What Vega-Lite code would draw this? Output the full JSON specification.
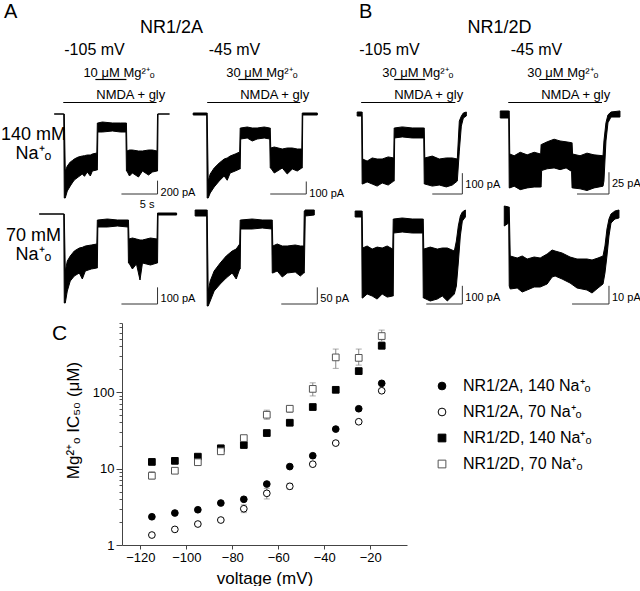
{
"$schema": "https://vega.github.io/schema/vega-lite/v6.json",
"padding": {"left": 0, "top": 2, "right": 0, "bottom": 0},
"spacing": 13,
"resolve": {"scale": {"shape": "independent", "fill": "independent", "stroke": "independent"}},
"config": {"view": {"stroke": null}, "font": "Liberation Sans", "axis": {"grid": false, "labelColor": "black", "titleColor": "black", "titleFontWeight": "normal"}, "title": {"fontWeight": "normal", "color": "black"}, "text": {"color": "black"}, "legend": {"labelColor": "black"}},
"datasets": {
"proto": [
{"p":"A1","drug":"NMDA","t":-0.14,"t2":12.78,"label":"NMDA + gly"},{"p":"A1","drug":"Mg","t":4.31,"t2":8.61,"label":"10 μM Mg²⁺ₒ"},
{"p":"A2","drug":"NMDA","t":0,"t2":12.92,"label":"NMDA + gly"},{"p":"A2","drug":"Mg","t":4.31,"t2":8.61,"label":"30 μM Mg²⁺ₒ"},
{"p":"B1","drug":"NMDA","t":-0.14,"t2":12.92,"label":"NMDA + gly"},{"p":"B1","drug":"Mg","t":4.44,"t2":8.75,"label":"30 μM Mg²⁺ₒ"},
{"p":"B2","drug":"NMDA","t":-0.14,"t2":12.92,"label":"NMDA + gly"},{"p":"B2","drug":"Mg","t":4.17,"t2":8.61,"label":"30 μM Mg²⁺ₒ"}
],
"top": [
{"p":"A1","k":"hb","t":7.92,"t2":12.92,"c":-1200},{"p":"A1","k":"vb","t":12.92,"c":-1200,"c2":-1000},{"p":"A1","k":"yl","t":12.92,"c":-1000,"label":"200 pA"},{"p":"A1","k":"xl","t":12.92,"c":-1200,"label":"5 s"},
{"p":"A2","k":"hb","t":8.75,"t2":13.75,"c":-640},{"p":"A2","k":"vb","t":13.75,"c":-640,"c2":-540},{"p":"A2","k":"yl","t":13.75,"c":-540,"label":"100 pA"},
{"p":"A3","k":"hb","t":7.92,"t2":12.92,"c":-540},{"p":"A3","k":"vb","t":12.92,"c":-540,"c2":-440},{"p":"A3","k":"yl","t":12.92,"c":-440,"label":"100 pA"},
{"p":"A4","k":"hb","t":10.28,"t2":15.28,"c":-270},{"p":"A4","k":"vb","t":15.28,"c":-270,"c2":-220},{"p":"A4","k":"yl","t":15.28,"c":-220,"label":"50 pA"},
{"p":"B1","k":"hb","t":9.72,"t2":13.89,"c":-384},{"p":"B1","k":"vb","t":13.89,"c":-384,"c2":-284},{"p":"B1","k":"yl","t":13.89,"c":-284,"label":"100 pA"},
{"p":"B2","k":"hb","t":9.44,"t2":13.89,"c":-92},{"p":"B2","k":"vb","t":13.89,"c":-92,"c2":-67},{"p":"B2","k":"yl","t":13.89,"c":-67,"label":"25 pA"},
{"p":"B3","k":"hb","t":8.89,"t2":13.89,"c":-495},{"p":"B3","k":"vb","t":13.89,"c":-495,"c2":-395},{"p":"B3","k":"yl","t":13.89,"c":-395,"label":"100 pA"},
{"p":"B4","k":"hb","t":8.75,"t2":13.89,"c":-49.5},{"p":"B4","k":"vb","t":13.89,"c":-49.5,"c2":-39.5},{"p":"B4","k":"yl","t":13.89,"c":-39.5,"label":"10 pA"},
{"p":"A1","k":"tr","t":-1.39,"c":0,"c2":0},{"p":"A1","k":"tr","t":-0.07,"c":0,"c2":0},{"p":"A1","k":"tr","t":0,"c":0,"c2":-1260},{"p":"A1","k":"tr","t":0.14,"c":-855,"c2":-1260},{"p":"A1","k":"tr","t":0.42,"c":-780,"c2":-1155},{"p":"A1","k":"tr","t":0.83,"c":-720,"c2":-1080},{"p":"A1","k":"tr","t":1.1,"c":-700,"c2":-1035},{"p":"A1","k":"tr","t":1.39,"c":-675,"c2":-990},{"p":"A1","k":"tr","t":1.94,"c":-645,"c2":-945},{"p":"A1","k":"tr","t":2.5,"c":-630,"c2":-900},{"p":"A1","k":"tr","t":2.8,"c":-625,"c2":-935},{"p":"A1","k":"tr","t":3.19,"c":-615,"c2":-870},{"p":"A1","k":"tr","t":3.61,"c":-615,"c2":-930},{"p":"A1","k":"tr","t":3.89,"c":-600,"c2":-855},{"p":"A1","k":"tr","t":4.51,"c":-585,"c2":-840},{"p":"A1","k":"tr","t":4.58,"c":-135,"c2":-840},{"p":"A1","k":"tr","t":4.65,"c":-135,"c2":-270},{"p":"A1","k":"tr","t":5.28,"c":-120,"c2":-270},{"p":"A1","k":"tr","t":6.67,"c":-135,"c2":-255},{"p":"A1","k":"tr","t":7.78,"c":-135,"c2":-270},{"p":"A1","k":"tr","t":8.54,"c":-135,"c2":-270},{"p":"A1","k":"tr","t":8.61,"c":-135,"c2":-855},{"p":"A1","k":"tr","t":8.68,"c":-555,"c2":-855},{"p":"A1","k":"tr","t":9.03,"c":-540,"c2":-930},{"p":"A1","k":"tr","t":9.44,"c":-540,"c2":-885},{"p":"A1","k":"tr","t":10.28,"c":-555,"c2":-945},{"p":"A1","k":"tr","t":10.83,"c":-555,"c2":-855},{"p":"A1","k":"tr","t":11.67,"c":-540,"c2":-915},{"p":"A1","k":"tr","t":12.22,"c":-540,"c2":-870},{"p":"A1","k":"tr","t":12.85,"c":-555,"c2":-855},{"p":"A1","k":"tr","t":12.92,"c":0,"c2":-855},{"p":"A1","k":"tr","t":12.99,"c":0,"c2":0},{"p":"A1","k":"tr","t":14.58,"c":0,"c2":0},
{"p":"A2","k":"tr","t":-1.94,"c":8,"c2":-8},{"p":"A2","k":"tr","t":-0.07,"c":8,"c2":-8},{"p":"A2","k":"tr","t":0,"c":8,"c2":-672},{"p":"A2","k":"tr","t":0.14,"c":-536,"c2":-672},{"p":"A2","k":"tr","t":0.42,"c":-480,"c2":-632},{"p":"A2","k":"tr","t":0.97,"c":-432,"c2":-584},{"p":"A2","k":"tr","t":1.67,"c":-392,"c2":-536},{"p":"A2","k":"tr","t":2.36,"c":-360,"c2":-496},{"p":"A2","k":"tr","t":2.78,"c":-352,"c2":-530},{"p":"A2","k":"tr","t":3.19,"c":-336,"c2":-472},{"p":"A2","k":"tr","t":3.89,"c":-320,"c2":-456},{"p":"A2","k":"tr","t":4.51,"c":-304,"c2":-440},{"p":"A2","k":"tr","t":4.58,"c":-112,"c2":-440},{"p":"A2","k":"tr","t":4.65,"c":-112,"c2":-200},{"p":"A2","k":"tr","t":5.56,"c":-104,"c2":-192},{"p":"A2","k":"tr","t":6.25,"c":-112,"c2":-216},{"p":"A2","k":"tr","t":6.94,"c":-112,"c2":-200},{"p":"A2","k":"tr","t":7.92,"c":-104,"c2":-192},{"p":"A2","k":"tr","t":8.68,"c":-112,"c2":-200},{"p":"A2","k":"tr","t":8.75,"c":-112,"c2":-432},{"p":"A2","k":"tr","t":8.82,"c":-272,"c2":-432},{"p":"A2","k":"tr","t":9.31,"c":-264,"c2":-472},{"p":"A2","k":"tr","t":10.42,"c":-280,"c2":-432},{"p":"A2","k":"tr","t":11.11,"c":-272,"c2":-480},{"p":"A2","k":"tr","t":11.81,"c":-272,"c2":-440},{"p":"A2","k":"tr","t":12.5,"c":-280,"c2":-456},{"p":"A2","k":"tr","t":13.13,"c":-280,"c2":-432},{"p":"A2","k":"tr","t":13.19,"c":8,"c2":-432},{"p":"A2","k":"tr","t":13.26,"c":8,"c2":-8},{"p":"A2","k":"tr","t":15.28,"c":8,"c2":-8},
{"p":"A3","k":"tr","t":-3.47,"c":0,"c2":0},{"p":"A3","k":"tr","t":-0.07,"c":0,"c2":0},{"p":"A3","k":"tr","t":0,"c":0,"c2":-534},{"p":"A3","k":"tr","t":0.14,"c":-342,"c2":-534},{"p":"A3","k":"tr","t":0.42,"c":-282,"c2":-462},{"p":"A3","k":"tr","t":0.83,"c":-252,"c2":-402},{"p":"A3","k":"tr","t":1.39,"c":-222,"c2":-372},{"p":"A3","k":"tr","t":2.08,"c":-204,"c2":-354},{"p":"A3","k":"tr","t":2.5,"c":-200,"c2":-390},{"p":"A3","k":"tr","t":2.92,"c":-192,"c2":-342},{"p":"A3","k":"tr","t":3.75,"c":-186,"c2":-330},{"p":"A3","k":"tr","t":4.51,"c":-180,"c2":-324},{"p":"A3","k":"tr","t":4.58,"c":-36,"c2":-324},{"p":"A3","k":"tr","t":4.65,"c":-36,"c2":-78},{"p":"A3","k":"tr","t":5.97,"c":-30,"c2":-78},{"p":"A3","k":"tr","t":7.36,"c":-36,"c2":-72},{"p":"A3","k":"tr","t":8.82,"c":-36,"c2":-78},{"p":"A3","k":"tr","t":8.89,"c":-36,"c2":-294},{"p":"A3","k":"tr","t":8.96,"c":-150,"c2":-294},{"p":"A3","k":"tr","t":9.44,"c":-144,"c2":-330},{"p":"A3","k":"tr","t":10.0,"c":-150,"c2":-300},{"p":"A3","k":"tr","t":10.49,"c":-156,"c2":-396},{"p":"A3","k":"tr","t":10.83,"c":-156,"c2":-294},{"p":"A3","k":"tr","t":11.94,"c":-144,"c2":-306},{"p":"A3","k":"tr","t":12.85,"c":-150,"c2":-294},{"p":"A3","k":"tr","t":12.92,"c":6,"c2":-294},{"p":"A3","k":"tr","t":12.99,"c":6,"c2":-6},{"p":"A3","k":"tr","t":15.56,"c":6,"c2":-6},
{"p":"A4","k":"tr","t":-1.67,"c":12,"c2":-6},{"p":"A4","k":"tr","t":-0.07,"c":12,"c2":-6},{"p":"A4","k":"tr","t":0,"c":12,"c2":-276},{"p":"A4","k":"tr","t":0.14,"c":-231,"c2":-276},{"p":"A4","k":"tr","t":0.42,"c":-201,"c2":-261},{"p":"A4","k":"tr","t":0.97,"c":-171,"c2":-231},{"p":"A4","k":"tr","t":1.81,"c":-147,"c2":-210},{"p":"A4","k":"tr","t":2.64,"c":-126,"c2":-192},{"p":"A4","k":"tr","t":3.47,"c":-111,"c2":-177},{"p":"A4","k":"tr","t":4.03,"c":-105,"c2":-195},{"p":"A4","k":"tr","t":4.51,"c":-90,"c2":-165},{"p":"A4","k":"tr","t":4.58,"c":-18,"c2":-165},{"p":"A4","k":"tr","t":4.65,"c":-18,"c2":-45},{"p":"A4","k":"tr","t":6.25,"c":-15,"c2":-45},{"p":"A4","k":"tr","t":7.64,"c":-18,"c2":-42},{"p":"A4","k":"tr","t":8.96,"c":-18,"c2":-45},{"p":"A4","k":"tr","t":9.03,"c":-18,"c2":-177},{"p":"A4","k":"tr","t":9.1,"c":-96,"c2":-177},{"p":"A4","k":"tr","t":9.72,"c":-90,"c2":-171},{"p":"A4","k":"tr","t":10.42,"c":-96,"c2":-189},{"p":"A4","k":"tr","t":11.11,"c":-96,"c2":-177},{"p":"A4","k":"tr","t":12.22,"c":-93,"c2":-174},{"p":"A4","k":"tr","t":12.92,"c":-96,"c2":-186},{"p":"A4","k":"tr","t":13.4,"c":-96,"c2":-177},{"p":"A4","k":"tr","t":13.47,"c":9,"c2":-177},{"p":"A4","k":"tr","t":13.61,"c":12,"c2":-6},{"p":"A4","k":"tr","t":14.86,"c":12,"c2":-3},
{"p":"B1","k":"tr","t":-0.69,"c":9.6,"c2":-9.6},{"p":"B1","k":"tr","t":-0.07,"c":9.6,"c2":-9.6},{"p":"B1","k":"tr","t":0,"c":9.6,"c2":-336},{"p":"B1","k":"tr","t":0.07,"c":-216,"c2":-336},{"p":"B1","k":"tr","t":0.69,"c":-226,"c2":-326},{"p":"B1","k":"tr","t":1.39,"c":-211,"c2":-336},{"p":"B1","k":"tr","t":2.08,"c":-216,"c2":-346},{"p":"B1","k":"tr","t":2.78,"c":-216,"c2":-331},{"p":"B1","k":"tr","t":3.61,"c":-206,"c2":-341},{"p":"B1","k":"tr","t":4.38,"c":-211,"c2":-322},{"p":"B1","k":"tr","t":4.44,"c":-67,"c2":-322},{"p":"B1","k":"tr","t":4.51,"c":-67,"c2":-115},{"p":"B1","k":"tr","t":5.56,"c":-62,"c2":-110},{"p":"B1","k":"tr","t":6.94,"c":-67,"c2":-115},{"p":"B1","k":"tr","t":8.54,"c":-67,"c2":-115},{"p":"B1","k":"tr","t":8.61,"c":-67,"c2":-336},{"p":"B1","k":"tr","t":8.68,"c":-211,"c2":-336},{"p":"B1","k":"tr","t":9.72,"c":-202,"c2":-346},{"p":"B1","k":"tr","t":10.69,"c":-216,"c2":-341},{"p":"B1","k":"tr","t":11.67,"c":-211,"c2":-350},{"p":"B1","k":"tr","t":12.5,"c":-211,"c2":-341},{"p":"B1","k":"tr","t":13.19,"c":-216,"c2":-322},{"p":"B1","k":"tr","t":13.47,"c":-34,"c2":-178},{"p":"B1","k":"tr","t":13.75,"c":-10,"c2":-58},{"p":"B1","k":"tr","t":14.03,"c":5,"c2":-19},{"p":"B1","k":"tr","t":14.44,"c":9.6,"c2":-9.6},
{"p":"B2","k":"tr","t":-1.25,"c":3.5,"c2":-4.6},{"p":"B2","k":"tr","t":-0.07,"c":3.5,"c2":-4.6},{"p":"B2","k":"tr","t":0,"c":3.5,"c2":-85},{"p":"B2","k":"tr","t":0.07,"c":-46,"c2":-85},{"p":"B2","k":"tr","t":0.69,"c":-48,"c2":-83},{"p":"B2","k":"tr","t":1.53,"c":-44,"c2":-87},{"p":"B2","k":"tr","t":2.5,"c":-47,"c2":-85},{"p":"B2","k":"tr","t":3.47,"c":-44,"c2":-84},{"p":"B2","k":"tr","t":4.38,"c":-46,"c2":-84},{"p":"B2","k":"tr","t":4.44,"c":-35,"c2":-84},{"p":"B2","k":"tr","t":4.51,"c":-35,"c2":-65},{"p":"B2","k":"tr","t":5.28,"c":-32,"c2":-63},{"p":"B2","k":"tr","t":6.25,"c":-29,"c2":-62},{"p":"B2","k":"tr","t":7.08,"c":-31,"c2":-64},{"p":"B2","k":"tr","t":7.92,"c":-32,"c2":-62},{"p":"B2","k":"tr","t":8.68,"c":-33,"c2":-66},{"p":"B2","k":"tr","t":8.75,"c":-33,"c2":-85},{"p":"B2","k":"tr","t":8.82,"c":-46,"c2":-85},{"p":"B2","k":"tr","t":9.86,"c":-48,"c2":-86},{"p":"B2","k":"tr","t":10.83,"c":-45,"c2":-88},{"p":"B2","k":"tr","t":11.81,"c":-47,"c2":-85},{"p":"B2","k":"tr","t":13.06,"c":-48,"c2":-83},{"p":"B2","k":"tr","t":13.19,"c":-31,"c2":-77},{"p":"B2","k":"tr","t":13.47,"c":-10,"c2":-31},{"p":"B2","k":"tr","t":13.75,"c":-1,"c2":-10},{"p":"B2","k":"tr","t":14.17,"c":2.3,"c2":-3.5},{"p":"B2","k":"tr","t":15.42,"c":3.5,"c2":-3.5},
{"p":"B3","k":"tr","t":-0.97,"c":16.5,"c2":-16.5},{"p":"B3","k":"tr","t":-0.07,"c":16.5,"c2":-16.5},{"p":"B3","k":"tr","t":0,"c":16.5,"c2":-462},{"p":"B3","k":"tr","t":0.07,"c":-187,"c2":-462},{"p":"B3","k":"tr","t":0.69,"c":-176,"c2":-440},{"p":"B3","k":"tr","t":1.39,"c":-193,"c2":-451},{"p":"B3","k":"tr","t":2.08,"c":-182,"c2":-468},{"p":"B3","k":"tr","t":2.78,"c":-187,"c2":-440},{"p":"B3","k":"tr","t":3.47,"c":-176,"c2":-457},{"p":"B3","k":"tr","t":4.24,"c":-193,"c2":-451},{"p":"B3","k":"tr","t":4.31,"c":-27.5,"c2":-451},{"p":"B3","k":"tr","t":4.38,"c":-27.5,"c2":-104.5},{"p":"B3","k":"tr","t":5.56,"c":-22,"c2":-99},{"p":"B3","k":"tr","t":6.94,"c":-27.5,"c2":-104.5},{"p":"B3","k":"tr","t":8.4,"c":-27.5,"c2":-104.5},{"p":"B3","k":"tr","t":8.47,"c":-27.5,"c2":-462},{"p":"B3","k":"tr","t":8.54,"c":-193,"c2":-462},{"p":"B3","k":"tr","t":9.44,"c":-182,"c2":-478.5},{"p":"B3","k":"tr","t":10.42,"c":-193,"c2":-467.5},{"p":"B3","k":"tr","t":11.11,"c":-187,"c2":-451},{"p":"B3","k":"tr","t":11.81,"c":-187,"c2":-478.5},{"p":"B3","k":"tr","t":12.78,"c":-203.5,"c2":-440},{"p":"B3","k":"tr","t":13.06,"c":-148.5,"c2":-396},{"p":"B3","k":"tr","t":13.33,"c":-66,"c2":-269.5},{"p":"B3","k":"tr","t":13.61,"c":-11,"c2":-121},{"p":"B3","k":"tr","t":13.89,"c":11,"c2":-38.5},{"p":"B3","k":"tr","t":14.31,"c":22,"c2":-16.5},
{"p":"B4","k":"tr","t":-0.69,"c":4.4,"c2":-6.6},{"p":"B4","k":"tr","t":-0.07,"c":3.85,"c2":-4.95},{"p":"B4","k":"tr","t":0,"c":3.85,"c2":-39.6},{"p":"B4","k":"tr","t":0.14,"c":-23.1,"c2":-41.25},{"p":"B4","k":"tr","t":1.11,"c":-24.2,"c2":-40.7},{"p":"B4","k":"tr","t":1.81,"c":-23.1,"c2":-42.9},{"p":"B4","k":"tr","t":2.5,"c":-24.75,"c2":-41.8},{"p":"B4","k":"tr","t":3.47,"c":-23.65,"c2":-40.15},{"p":"B4","k":"tr","t":4.31,"c":-24.2,"c2":-40.15},{"p":"B4","k":"tr","t":5.28,"c":-22,"c2":-38.5},{"p":"B4","k":"tr","t":5.97,"c":-19.8,"c2":-34.65},{"p":"B4","k":"tr","t":6.39,"c":-20.35,"c2":-34.1},{"p":"B4","k":"tr","t":7.36,"c":-21.45,"c2":-35.75},{"p":"B4","k":"tr","t":8.47,"c":-23.65,"c2":-37.95},{"p":"B4","k":"tr","t":9.44,"c":-24.75,"c2":-40.7},{"p":"B4","k":"tr","t":10.83,"c":-24.75,"c2":-41.8},{"p":"B4","k":"tr","t":11.53,"c":-25.3,"c2":-43.45},{"p":"B4","k":"tr","t":12.36,"c":-24.2,"c2":-40.7},{"p":"B4","k":"tr","t":13.06,"c":-23.1,"c2":-38.5},{"p":"B4","k":"tr","t":13.33,"c":-17.6,"c2":-32.45},{"p":"B4","k":"tr","t":13.61,"c":-8.25,"c2":-23.1},{"p":"B4","k":"tr","t":13.89,"c":-2.75,"c2":-12.1},{"p":"B4","k":"tr","t":14.17,"c":0,"c2":-4.95},{"p":"B4","k":"tr","t":14.72,"c":1.65,"c2":-2.75},{"p":"B4","k":"tr","t":15.28,"c":2.2,"c2":-2.2}
],
"ic50": [
{"s":"NR1/2A, 140 Na⁺ₒ","v":-115,"ic":2.34},{"s":"NR1/2A, 140 Na⁺ₒ","v":-105,"ic":2.62},{"s":"NR1/2A, 140 Na⁺ₒ","v":-95,"ic":2.89},{"s":"NR1/2A, 140 Na⁺ₒ","v":-85,"ic":3.54},{"s":"NR1/2A, 140 Na⁺ₒ","v":-75,"ic":3.96},{"s":"NR1/2A, 140 Na⁺ₒ","v":-65,"ic":6.27},{"s":"NR1/2A, 140 Na⁺ₒ","v":-55,"ic":10.6},{"s":"NR1/2A, 140 Na⁺ₒ","v":-45,"ic":14.7},{"s":"NR1/2A, 140 Na⁺ₒ","v":-35,"ic":32.8},{"s":"NR1/2A, 140 Na⁺ₒ","v":-25,"ic":60.5},{"s":"NR1/2A, 140 Na⁺ₒ","v":-15,"ic":130},
{"s":"NR1/2A, 70 Na⁺ₒ","v":-115,"ic":1.35},{"s":"NR1/2A, 70 Na⁺ₒ","v":-105,"ic":1.6},{"s":"NR1/2A, 70 Na⁺ₒ","v":-95,"ic":1.88},{"s":"NR1/2A, 70 Na⁺ₒ","v":-85,"ic":2.12},{"s":"NR1/2A, 70 Na⁺ₒ","v":-75,"ic":2.98},{"s":"NR1/2A, 70 Na⁺ₒ","v":-65,"ic":4.74},{"s":"NR1/2A, 70 Na⁺ₒ","v":-55,"ic":5.85},{"s":"NR1/2A, 70 Na⁺ₒ","v":-45,"ic":11.4},{"s":"NR1/2A, 70 Na⁺ₒ","v":-35,"ic":21.5},{"s":"NR1/2A, 70 Na⁺ₒ","v":-25,"ic":40.9},{"s":"NR1/2A, 70 Na⁺ₒ","v":-15,"ic":104},
{"s":"NR1/2D, 140 Na⁺ₒ","v":-115,"ic":12.2},{"s":"NR1/2D, 140 Na⁺ₒ","v":-105,"ic":12.6},{"s":"NR1/2D, 140 Na⁺ₒ","v":-95,"ic":14.3},{"s":"NR1/2D, 140 Na⁺ₒ","v":-85,"ic":18.4},{"s":"NR1/2D, 140 Na⁺ₒ","v":-75,"ic":20.3},{"s":"NR1/2D, 140 Na⁺ₒ","v":-65,"ic":29.1},{"s":"NR1/2D, 140 Na⁺ₒ","v":-55,"ic":39.7},{"s":"NR1/2D, 140 Na⁺ₒ","v":-45,"ic":63.7},{"s":"NR1/2D, 140 Na⁺ₒ","v":-35,"ic":107},{"s":"NR1/2D, 140 Na⁺ₒ","v":-25,"ic":188},{"s":"NR1/2D, 140 Na⁺ₒ","v":-15,"ic":403},
{"s":"NR1/2D, 70 Na⁺ₒ","v":-115,"ic":8.05},{"s":"NR1/2D, 70 Na⁺ₒ","v":-105,"ic":9.36},{"s":"NR1/2D, 70 Na⁺ₒ","v":-95,"ic":12.1},{"s":"NR1/2D, 70 Na⁺ₒ","v":-85,"ic":16.8},{"s":"NR1/2D, 70 Na⁺ₒ","v":-75,"ic":25},{"s":"NR1/2D, 70 Na⁺ₒ","v":-65,"ic":50.5},{"s":"NR1/2D, 70 Na⁺ₒ","v":-55,"ic":60.5},{"s":"NR1/2D, 70 Na⁺ₒ","v":-45,"ic":110},{"s":"NR1/2D, 70 Na⁺ₒ","v":-35,"ic":284},{"s":"NR1/2D, 70 Na⁺ₒ","v":-25,"ic":280},{"s":"NR1/2D, 70 Na⁺ₒ","v":-15,"ic":540}
],
"err": [
{"s":"NR1/2D, 70 Na⁺ₒ","v":-115,"lo":7.3,"hi":9.1},{"s":"NR1/2D, 70 Na⁺ₒ","v":-105,"lo":8.9,"hi":10.3},{"s":"NR1/2D, 70 Na⁺ₒ","v":-95,"lo":11.3,"hi":12.9},{"s":"NR1/2D, 70 Na⁺ₒ","v":-85,"lo":15.8,"hi":18},{"s":"NR1/2D, 70 Na⁺ₒ","v":-75,"lo":23.5,"hi":27},{"s":"NR1/2D, 70 Na⁺ₒ","v":-65,"lo":44,"hi":58},{"s":"NR1/2D, 70 Na⁺ₒ","v":-55,"lo":54,"hi":66},{"s":"NR1/2D, 70 Na⁺ₒ","v":-45,"lo":89,"hi":132},{"s":"NR1/2D, 70 Na⁺ₒ","v":-35,"lo":204,"hi":365},{"s":"NR1/2D, 70 Na⁺ₒ","v":-25,"lo":225,"hi":365},{"s":"NR1/2D, 70 Na⁺ₒ","v":-15,"lo":460,"hi":646},
{"s":"NR1/2A, 70 Na⁺ₒ","v":-75,"lo":2.65,"hi":3.35},{"s":"NR1/2A, 70 Na⁺ₒ","v":-65,"lo":4.0,"hi":5.5},{"s":"NR1/2A, 70 Na⁺ₒ","v":-55,"lo":5.4,"hi":6.4},{"s":"NR1/2D, 140 Na⁺ₒ","v":-15,"lo":370,"hi":440}
]
},
"vconcat": [
{
"concat": [
{"width": 148, "height": 46, "data": {"name": "proto"}, "transform": [{"filter": "datum.p == 'A1'"}],
 "title": {"text": "A", "anchor": "start", "frame": "group", "align": "left", "baseline": "alphabetic", "dx": -35, "offset": -20, "fontSize": 20},
 "encoding": {
  "x": {"field": "t", "type": "quantitative", "scale": {"domain": [-3.5, 17], "nice": false, "zero": false}, "axis": {"orient": "top", "title": "-105 mV", "labels": false, "ticks": false, "domain": false, "titleX": 55, "titleY": -14, "titleAlign": "center", "titleBaseline": "alphabetic", "titleFontSize": 16, "titleAngle": 0}},
  "y": {"field": "drug", "type": "nominal", "scale": {"type": "point", "domain": ["Mg", "NMDA"], "padding": 0.5}, "axis": {"title": "NR1/2A", "labels": false, "ticks": false, "domain": false, "titleAngle": 0, "titleX": 132, "titleY": -36, "titleAlign": "center", "titleBaseline": "alphabetic", "titleFontSize": 18}}},
 "layer": [
  {"mark": {"type": "rule", "color": "black", "strokeWidth": 1.2}, "encoding": {"x2": {"field": "t2"}}},
  {"transform": [{"filter": "datum.drug == 'Mg'"}], "mark": {"type": "text", "align": "left", "baseline": "alphabetic", "dx": -12, "dy": -3, "fontSize": 13}, "encoding": {"text": {"field": "label", "type": "nominal"}}},
  {"transform": [{"filter": "datum.drug == 'NMDA'"}], "mark": {"type": "text", "align": "left", "baseline": "alphabetic", "dx": 33, "dy": -4, "fontSize": 13}, "encoding": {"text": {"field": "label", "type": "nominal"}}}]},
{"width": 160, "height": 46, "data": {"name": "proto"}, "transform": [{"filter": "datum.p == 'A2'"}],
 "encoding": {
  "x": {"field": "t", "type": "quantitative", "scale": {"domain": [-2.8, 19.4], "nice": false, "zero": false}, "axis": {"orient": "top", "title": "-45 mV", "labels": false, "ticks": false, "domain": false, "titleX": 47, "titleY": -14, "titleAlign": "center", "titleBaseline": "alphabetic", "titleFontSize": 16, "titleAngle": 0}},
  "y": {"field": "drug", "type": "nominal", "scale": {"type": "point", "domain": ["Mg", "NMDA"], "padding": 0.5}, "axis": null}},
 "layer": [
  {"mark": {"type": "rule", "color": "black", "strokeWidth": 1.2}, "encoding": {"x2": {"field": "t2"}}},
  {"transform": [{"filter": "datum.drug == 'Mg'"}], "mark": {"type": "text", "align": "left", "baseline": "alphabetic", "dx": -12, "dy": -3, "fontSize": 13}, "encoding": {"text": {"field": "label", "type": "nominal"}}},
  {"transform": [{"filter": "datum.drug == 'NMDA'"}], "mark": {"type": "text", "align": "left", "baseline": "alphabetic", "dx": 33, "dy": -4, "fontSize": 13}, "encoding": {"text": {"field": "label", "type": "nominal"}}}]},
{"width": 145, "height": 46, "data": {"name": "proto"}, "transform": [{"filter": "datum.p == 'B1'"}],
 "title": {"text": "B", "anchor": "start", "frame": "group", "align": "left", "baseline": "alphabetic", "dx": 12, "offset": -20, "fontSize": 20},
 "encoding": {
  "x": {"field": "t", "type": "quantitative", "scale": {"domain": [-2.1, 18.0], "nice": false, "zero": false}, "axis": {"orient": "top", "title": "-105 mV", "labels": false, "ticks": false, "domain": false, "titleX": 42, "titleY": -14, "titleAlign": "center", "titleBaseline": "alphabetic", "titleFontSize": 16, "titleAngle": 0}},
  "y": {"field": "drug", "type": "nominal", "scale": {"type": "point", "domain": ["Mg", "NMDA"], "padding": 0.5}, "axis": {"title": "NR1/2D", "labels": false, "ticks": false, "domain": false, "titleAngle": 0, "titleX": 152, "titleY": -36, "titleAlign": "center", "titleBaseline": "alphabetic", "titleFontSize": 18}}},
 "layer": [
  {"mark": {"type": "rule", "color": "black", "strokeWidth": 1.2}, "encoding": {"x2": {"field": "t2"}}},
  {"transform": [{"filter": "datum.drug == 'Mg'"}], "mark": {"type": "text", "align": "left", "baseline": "alphabetic", "dx": -12, "dy": -3, "fontSize": 13}, "encoding": {"text": {"field": "label", "type": "nominal"}}},
  {"transform": [{"filter": "datum.drug == 'NMDA'"}], "mark": {"type": "text", "align": "left", "baseline": "alphabetic", "dx": 33, "dy": -4, "fontSize": 13}, "encoding": {"text": {"field": "label", "type": "nominal"}}}]},
{"width": 135, "height": 46, "data": {"name": "proto"}, "transform": [{"filter": "datum.p == 'B2'"}],
 "encoding": {
  "x": {"field": "t", "type": "quantitative", "scale": {"domain": [-2.4, 16.4], "nice": false, "zero": false}, "axis": {"orient": "top", "title": "-45 mV", "labels": false, "ticks": false, "domain": false, "titleX": 44, "titleY": -14, "titleAlign": "center", "titleBaseline": "alphabetic", "titleFontSize": 16, "titleAngle": 0}},
  "y": {"field": "drug", "type": "nominal", "scale": {"type": "point", "domain": ["Mg", "NMDA"], "padding": 0.5}, "axis": null}},
 "layer": [
  {"mark": {"type": "rule", "color": "black", "strokeWidth": 1.2}, "encoding": {"x2": {"field": "t2"}}},
  {"transform": [{"filter": "datum.drug == 'Mg'"}], "mark": {"type": "text", "align": "left", "baseline": "alphabetic", "dx": -12, "dy": -3, "fontSize": 13}, "encoding": {"text": {"field": "label", "type": "nominal"}}},
  {"transform": [{"filter": "datum.drug == 'NMDA'"}], "mark": {"type": "text", "align": "left", "baseline": "alphabetic", "dx": 33, "dy": -4, "fontSize": 13}, "encoding": {"text": {"field": "label", "type": "nominal"}}}]},

{"width": 148, "height": 100, "data": {"name": "top"}, "transform": [{"filter": "datum.p == 'A1'"}],
 "encoding": {
  "x": {"field": "t", "type": "quantitative", "scale": {"domain": [-3.5, 17], "nice": false, "zero": false}, "axis": null},
  "y": {"field": "c", "type": "quantitative", "scale": {"domain": [-1500, 0], "nice": false, "zero": false}, "axis": {"title": ["140 mM", "Na⁺ₒ"], "labels": false, "ticks": false, "domain": false, "titleAngle": 0, "titleX": -6, "titleY": 25, "titleAlign": "center", "titleBaseline": "alphabetic", "titleFontSize": 18, "titleLineHeight": 19}}},
 "layer": [
  {"transform": [{"filter": "datum.k == 'tr'"}], "mark": {"type": "area", "color": "black", "stroke": "black", "strokeWidth": 1}, "encoding": {"y2": {"field": "c2"}}},
  {"transform": [{"filter": "datum.k == 'hb'"}], "mark": {"type": "rule", "color": "#333"}, "encoding": {"x2": {"field": "t2"}}},
  {"transform": [{"filter": "datum.k == 'vb'"}], "mark": {"type": "rule", "color": "#333"}, "encoding": {"y2": {"field": "c2"}}},
  {"transform": [{"filter": "datum.k == 'yl'"}], "mark": {"type": "text", "align": "left", "baseline": "top", "dx": 3, "dy": 6, "fontSize": 11}, "encoding": {"text": {"field": "label", "type": "nominal"}}},
  {"transform": [{"filter": "datum.k == 'xl'"}], "mark": {"type": "text", "align": "right", "baseline": "top", "dx": -3, "dy": 5, "fontSize": 11}, "encoding": {"text": {"field": "label", "type": "nominal"}}}]},
{"width": 160, "height": 100, "data": {"name": "top"}, "transform": [{"filter": "datum.p == 'A2'"}],
 "encoding": {
  "x": {"field": "t", "type": "quantitative", "scale": {"domain": [-2.8, 19.4], "nice": false, "zero": false}, "axis": null},
  "y": {"field": "c", "type": "quantitative", "scale": {"domain": [-800, 0], "nice": false, "zero": false}, "axis": null}},
 "layer": [
  {"transform": [{"filter": "datum.k == 'tr'"}], "mark": {"type": "area", "color": "black", "stroke": "black", "strokeWidth": 1}, "encoding": {"y2": {"field": "c2"}}},
  {"transform": [{"filter": "datum.k == 'hb'"}], "mark": {"type": "rule", "color": "#333"}, "encoding": {"x2": {"field": "t2"}}},
  {"transform": [{"filter": "datum.k == 'vb'"}], "mark": {"type": "rule", "color": "#333"}, "encoding": {"y2": {"field": "c2"}}},
  {"transform": [{"filter": "datum.k == 'yl'"}], "mark": {"type": "text", "align": "left", "baseline": "top", "dx": 3, "dy": 6, "fontSize": 11}, "encoding": {"text": {"field": "label", "type": "nominal"}}}]},
{"width": 145, "height": 100, "data": {"name": "top"}, "transform": [{"filter": "datum.p == 'B1'"}],
 "encoding": {
  "x": {"field": "t", "type": "quantitative", "scale": {"domain": [-2.1, 18.0], "nice": false, "zero": false}, "axis": null},
  "y": {"field": "c", "type": "quantitative", "scale": {"domain": [-480, 0], "nice": false, "zero": false}, "axis": null}},
 "layer": [
  {"transform": [{"filter": "datum.k == 'tr'"}], "mark": {"type": "area", "color": "black", "stroke": "black", "strokeWidth": 1}, "encoding": {"y2": {"field": "c2"}}},
  {"transform": [{"filter": "datum.k == 'hb'"}], "mark": {"type": "rule", "color": "#333"}, "encoding": {"x2": {"field": "t2"}}},
  {"transform": [{"filter": "datum.k == 'vb'"}], "mark": {"type": "rule", "color": "#333"}, "encoding": {"y2": {"field": "c2"}}},
  {"transform": [{"filter": "datum.k == 'yl'"}], "mark": {"type": "text", "align": "left", "baseline": "top", "dx": 3, "dy": 6, "fontSize": 11}, "encoding": {"text": {"field": "label", "type": "nominal"}}}]},
{"width": 135, "height": 100, "data": {"name": "top"}, "transform": [{"filter": "datum.p == 'B2'"}],
 "encoding": {
  "x": {"field": "t", "type": "quantitative", "scale": {"domain": [-2.4, 16.4], "nice": false, "zero": false}, "axis": null},
  "y": {"field": "c", "type": "quantitative", "scale": {"domain": [-115, 0], "nice": false, "zero": false}, "axis": null}},
 "layer": [
  {"transform": [{"filter": "datum.k == 'tr'"}], "mark": {"type": "area", "color": "black", "stroke": "black", "strokeWidth": 1}, "encoding": {"y2": {"field": "c2"}}},
  {"transform": [{"filter": "datum.k == 'hb'"}], "mark": {"type": "rule", "color": "#333"}, "encoding": {"x2": {"field": "t2"}}},
  {"transform": [{"filter": "datum.k == 'vb'"}], "mark": {"type": "rule", "color": "#333"}, "encoding": {"y2": {"field": "c2"}}},
  {"transform": [{"filter": "datum.k == 'yl'"}], "mark": {"type": "text", "align": "left", "baseline": "top", "dx": 3, "dy": 6, "fontSize": 11}, "encoding": {"text": {"field": "label", "type": "nominal"}}}]},

{"width": 148, "height": 95, "data": {"name": "top"}, "transform": [{"filter": "datum.p == 'A3'"}],
 "encoding": {
  "x": {"field": "t", "type": "quantitative", "scale": {"domain": [-3.5, 17], "nice": false, "zero": false}, "axis": null},
  "y": {"field": "c", "type": "quantitative", "scale": {"domain": [-570, 0], "nice": false, "zero": false}, "axis": {"title": ["70 mM", "Na⁺ₒ"], "labels": false, "ticks": false, "domain": false, "titleAngle": 0, "titleX": -6, "titleY": 26, "titleAlign": "center", "titleBaseline": "alphabetic", "titleFontSize": 18, "titleLineHeight": 19}}},
 "layer": [
  {"transform": [{"filter": "datum.k == 'tr'"}], "mark": {"type": "area", "color": "black", "stroke": "black", "strokeWidth": 1}, "encoding": {"y2": {"field": "c2"}}},
  {"transform": [{"filter": "datum.k == 'hb'"}], "mark": {"type": "rule", "color": "#333"}, "encoding": {"x2": {"field": "t2"}}},
  {"transform": [{"filter": "datum.k == 'vb'"}], "mark": {"type": "rule", "color": "#333"}, "encoding": {"y2": {"field": "c2"}}},
  {"transform": [{"filter": "datum.k == 'yl'"}], "mark": {"type": "text", "align": "left", "baseline": "top", "dx": 3, "dy": 6, "fontSize": 11}, "encoding": {"text": {"field": "label", "type": "nominal"}}}]},
{"width": 160, "height": 95, "data": {"name": "top"}, "transform": [{"filter": "datum.p == 'A4'"}],
 "encoding": {
  "x": {"field": "t", "type": "quantitative", "scale": {"domain": [-2.8, 19.4], "nice": false, "zero": false}, "axis": null},
  "y": {"field": "c", "type": "quantitative", "scale": {"domain": [-285, 0], "nice": false, "zero": false}, "axis": null}},
 "layer": [
  {"transform": [{"filter": "datum.k == 'tr'"}], "mark": {"type": "area", "color": "black", "stroke": "black", "strokeWidth": 1}, "encoding": {"y2": {"field": "c2"}}},
  {"transform": [{"filter": "datum.k == 'hb'"}], "mark": {"type": "rule", "color": "#333"}, "encoding": {"x2": {"field": "t2"}}},
  {"transform": [{"filter": "datum.k == 'vb'"}], "mark": {"type": "rule", "color": "#333"}, "encoding": {"y2": {"field": "c2"}}},
  {"transform": [{"filter": "datum.k == 'yl'"}], "mark": {"type": "text", "align": "left", "baseline": "top", "dx": 3, "dy": 6, "fontSize": 11}, "encoding": {"text": {"field": "label", "type": "nominal"}}}]},
{"width": 145, "height": 95, "data": {"name": "top"}, "transform": [{"filter": "datum.p == 'B3'"}],
 "encoding": {
  "x": {"field": "t", "type": "quantitative", "scale": {"domain": [-2.1, 18.0], "nice": false, "zero": false}, "axis": null},
  "y": {"field": "c", "type": "quantitative", "scale": {"domain": [-522.5, 0], "nice": false, "zero": false}, "axis": null}},
 "layer": [
  {"transform": [{"filter": "datum.k == 'tr'"}], "mark": {"type": "area", "color": "black", "stroke": "black", "strokeWidth": 1}, "encoding": {"y2": {"field": "c2"}}},
  {"transform": [{"filter": "datum.k == 'hb'"}], "mark": {"type": "rule", "color": "#333"}, "encoding": {"x2": {"field": "t2"}}},
  {"transform": [{"filter": "datum.k == 'vb'"}], "mark": {"type": "rule", "color": "#333"}, "encoding": {"y2": {"field": "c2"}}},
  {"transform": [{"filter": "datum.k == 'yl'"}], "mark": {"type": "text", "align": "left", "baseline": "top", "dx": 3, "dy": 6, "fontSize": 11}, "encoding": {"text": {"field": "label", "type": "nominal"}}}]},
{"width": 135, "height": 95, "data": {"name": "top"}, "transform": [{"filter": "datum.p == 'B4'"}],
 "encoding": {
  "x": {"field": "t", "type": "quantitative", "scale": {"domain": [-2.4, 16.4], "nice": false, "zero": false}, "axis": null},
  "y": {"field": "c", "type": "quantitative", "scale": {"domain": [-52.25, 0], "nice": false, "zero": false}, "axis": null}},
 "layer": [
  {"transform": [{"filter": "datum.k == 'tr'"}], "mark": {"type": "area", "color": "black", "stroke": "black", "strokeWidth": 1}, "encoding": {"y2": {"field": "c2"}}},
  {"transform": [{"filter": "datum.k == 'hb'"}], "mark": {"type": "rule", "color": "#333"}, "encoding": {"x2": {"field": "t2"}}},
  {"transform": [{"filter": "datum.k == 'vb'"}], "mark": {"type": "rule", "color": "#333"}, "encoding": {"y2": {"field": "c2"}}},
  {"transform": [{"filter": "datum.k == 'yl'"}], "mark": {"type": "text", "align": "left", "baseline": "top", "dx": 3, "dy": 6, "fontSize": 11}, "encoding": {"text": {"field": "label", "type": "nominal"}}}]}
],
"columns": 4, "spacing": 0, "bounds": "flush", "align": "each"
},
{
"hconcat": [
{"width": 83, "height": 10, "data": {"values": []}, "mark": {"type": "point", "opacity": 0}},
{
"width": 285, "height": 222,
"title": {"text": "C", "orient": "left", "anchor": "end", "angle": 0, "align": "right", "baseline": "top", "offset": -18, "fontSize": 21},
"layer": [
 {"data": {"name": "err"}, "mark": {"type": "rule", "color": "#888", "strokeWidth": 1},
  "encoding": {
   "x": {"field": "v", "type": "quantitative", "title": "voltage (mV)", "scale": {"domain": [-128, -4], "nice": false, "zero": false}},
   "y": {"field": "lo", "type": "quantitative", "scale": {"type": "log", "domain": [1, 800], "nice": false}, "axis": {"orient": "left", "values": [2,3,4,5,6,7,8,9,20,30,40,50,60,70,80,90,200,300,400,500,600,700,800], "tickSize": 3, "labels": false, "domain": false, "title": null, "tickColor": "#555"}},
   "y2": {"field": "hi"}}},
 {"data": {"name": "err"}, "mark": {"type": "tick", "orient": "horizontal", "size": 6, "thickness": 1, "color": "#888"},
  "encoding": {
   "x": {"field": "v", "type": "quantitative", "title": "voltage (mV)", "scale": {"domain": [-128, -4], "nice": false, "zero": false}},
   "y": {"field": "lo", "type": "quantitative", "scale": {"type": "log", "domain": [1, 800], "nice": false}, "axis": null}}},
 {"data": {"name": "err"}, "mark": {"type": "tick", "orient": "horizontal", "size": 6, "thickness": 1, "color": "#888"},
  "encoding": {
   "x": {"field": "v", "type": "quantitative", "title": "voltage (mV)", "scale": {"domain": [-128, -4], "nice": false, "zero": false}},
   "y": {"field": "hi", "type": "quantitative", "scale": {"type": "log", "domain": [1, 800], "nice": false}, "axis": null}}},
 {"data": {"name": "ic50"}, "mark": {"type": "point", "filled": true, "opacity": 1, "size": 45, "strokeWidth": 1},
  "encoding": {
   "x": {"field": "v", "type": "quantitative", "title": "voltage (mV)", "scale": {"domain": [-128, -4], "nice": false, "zero": false}, "axis": {"values": [-120,-100,-80,-60,-40,-20], "tickSize": 4, "labelFontSize": 13, "titleFontSize": 17, "titlePadding": 6, "labelPadding": 2, "domainColor": "#444", "tickColor": "#444"}},
   "y": {"field": "ic", "type": "quantitative", "scale": {"type": "log", "domain": [1, 800], "nice": false}, "axis": {"orient": "left", "values": [1, 10, 100], "format": "~g", "tickSize": 6, "labelFontSize": 13, "labelPadding": 2, "title": "Mg²⁺ₒ IC₅₀ (μM)", "titleFontSize": 17, "titlePadding": 10, "titleY": 97, "domainColor": "#444", "tickColor": "#444"}},
   "shape": {"field": "s", "type": "nominal", "title": null, "scale": {"domain": ["NR1/2A, 140 Na⁺ₒ","NR1/2A, 70 Na⁺ₒ","NR1/2D, 140 Na⁺ₒ","NR1/2D, 70 Na⁺ₒ"], "range": ["circle","circle","square","square"]}, "legend": {"orient": "none", "legendX": 312, "legendY": 55, "labelFontSize": 16, "labelOffset": 13, "rowPadding": 10, "symbolSize": 60, "symbolStrokeWidth": 1, "padding": 0, "labelLimit": 300}},
   "fill": {"field": "s", "type": "nominal", "title": null, "scale": {"domain": ["NR1/2A, 140 Na⁺ₒ","NR1/2A, 70 Na⁺ₒ","NR1/2D, 140 Na⁺ₒ","NR1/2D, 70 Na⁺ₒ"], "range": ["black","white","black","white"]}, "legend": {"orient": "none", "legendX": 312, "legendY": 55, "labelFontSize": 16, "labelOffset": 13, "rowPadding": 10, "symbolSize": 60, "symbolStrokeWidth": 1, "padding": 0, "labelLimit": 300}},
   "stroke": {"field": "s", "type": "nominal", "title": null, "scale": {"domain": ["NR1/2A, 140 Na⁺ₒ","NR1/2A, 70 Na⁺ₒ","NR1/2D, 140 Na⁺ₒ","NR1/2D, 70 Na⁺ₒ"], "range": ["black","black","black","#555"]}, "legend": {"orient": "none", "legendX": 312, "legendY": 55, "labelFontSize": 16, "labelOffset": 13, "rowPadding": 10, "symbolSize": 60, "symbolStrokeWidth": 1, "padding": 0, "labelLimit": 300}}
  }}
],
"resolve": {"axis": {"y": "independent"}}
}
],
"bounds": "flush", "spacing": 0,
"resolve": {"scale": {"shape": "independent", "fill": "independent", "stroke": "independent"}}
}
]
}
